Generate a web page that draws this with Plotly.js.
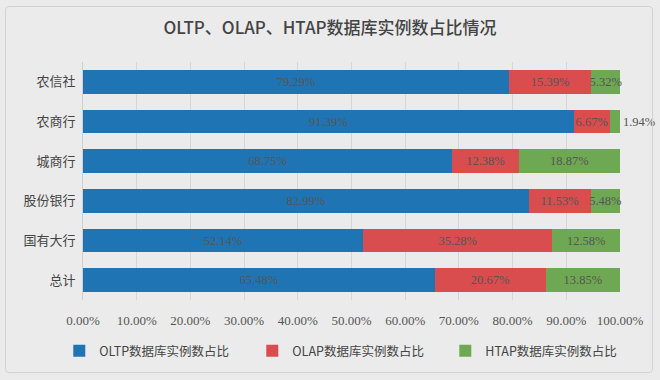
<!DOCTYPE html>
<html>
<head>
<meta charset="utf-8">
<script src="https://cdn.plot.ly/plotly-3.0.1.min.js"></script>
<style>
html,body{margin:0;padding:0;background:#f2f2f2;}
#wrap{position:relative;width:660px;height:380px;}
#chart{position:absolute;left:0;top:0;width:660px;height:380px;}
#frame{position:absolute;left:5px;top:6px;width:646px;height:365px;border:1px solid #d3d3d3;border-radius:4px;pointer-events:none;}
</style>
</head>
<body>
<div id="wrap"><div id="chart"></div><div id="frame"></div></div>
<script>
const categories = ["农信社", "农商行", "城商行", "股份银行", "国有大行", "总计"];
const oltp = [79.29, 91.39, 68.75, 82.99, 52.14, 65.48];
const olap = [15.39, 6.67, 12.38, 11.53, 35.28, 20.67];
const htap = [5.32, 1.94, 18.87, 5.48, 12.58, 13.85];
const seriesNames = ["OLTP数据库实例数占比", "OLAP数据库实例数占比", "HTAP数据库实例数占比"];
const colors = ["#1f74b4", "#d94d4f", "#6fa852"];
const xTickVals = [0,10,20,30,40,50,60,70,80,90,100];
const xTickText = ["0.00%","10.00%","20.00%","30.00%","40.00%","50.00%","60.00%","70.00%","80.00%","90.00%","100.00%"];

const labelFont = {family: "Liberation Serif, DejaVu Serif, serif", size: 12.5, color: "#555555"};
function mk(vals, i){
  return {
    type: "bar", orientation: "h",
    x: vals, y: categories,
    name: seriesNames[i],
    marker: {color: colors[i]},
    text: vals.map(v => v.toFixed(2) + "%"),
    textposition: vals.map(v => v < 3 ? "outside" : "inside"),
    insidetextanchor: "middle",
    constraintext: "none",
    textangle: 0,
    cliponaxis: false,
    textfont: labelFont,
    outsidetextfont: labelFont,
    hoverinfo: "none"
  };
}
const data = [mk(oltp,0), mk(olap,1), mk(htap,2)];

const layout = {
  width: 660, height: 380,
  paper_bgcolor: "#ebebeb",
  plot_bgcolor: "#ebebeb",
  barmode: "stack",
  bargap: 0.4,
  margin: {l: 10, r: 10, t: 62, b: 80},
  title: {
    text: "OLTP、OLAP、HTAP数据库实例数占比情况",
    font: {family: "Noto Sans CJK SC, sans-serif", size: 17, color: "#444444", weight: 500},
    x: 0.5, xanchor: "center", y: 0.925, yanchor: "middle"
  },
  xaxis: {
    domain: [0.1141, 0.9531],
    range: [0, 100],
    tickvals: xTickVals, ticktext: xTickText,
    showgrid: true, gridcolor: "#d6d6d6", gridwidth: 1,
    zeroline: false, showline: false, ticks: "",
    ticklabelstandoff: 11,
    tickfont: {family: "Liberation Serif, DejaVu Serif, serif", size: 13, color: "#555555"},
    fixedrange: true
  },
  yaxis: {
    autorange: "reversed",
    showline: true, linecolor: "#cfcfcf", linewidth: 1,
    ticks: "", showgrid: false,
    tickfont: {family: "Noto Sans CJK SC, sans-serif", size: 13, color: "#444444"},
    ticklabelstandoff: 4,
    fixedrange: true
  },
  legend: {
    orientation: "h", x: 0.077, xanchor: "left", y: -0.215, yanchor: "middle",
    font: {family: "Noto Sans CJK SC, sans-serif", size: 12.5, color: "#444444"},
    entrywidth: 148, entrywidthmode: "pixels",
    itemwidth: 30, traceorder: "normal",
    bgcolor: "rgba(0,0,0,0)"
  },
  showlegend: true
};
Plotly.newPlot("chart", data, layout, {displayModeBar: false, staticPlot: true});
</script>
</body>
</html>
